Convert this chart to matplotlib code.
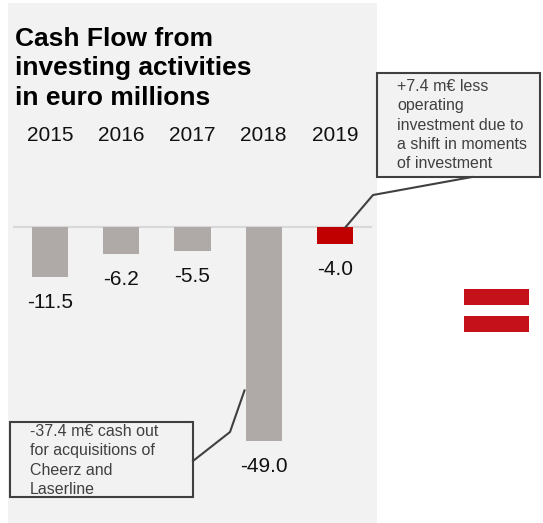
import numpy as np
import matplotlib
matplotlib.use("Agg")
import matplotlib.pyplot as plt
from matplotlib.patches import Rectangle

years = ["2015", "2016", "2017", "2018", "2019"]
values = [-11.5, -6.2, -5.5, -49.0, -4.0]
bar_colors = ["#afaaa8", "#afaaa8", "#afaaa8", "#afaaa8", "#c00000"]

title = "Cash Flow from\ninvesting activities\nin euro millions"
note_2019 = "+7.4 m€ less\noperating\ninvestment due to\na shift in moments\nof investment"
note_2018 = "-37.4 m€ cash out\nfor acquisitions of\nCheerz and\nLaserline"
acq_value = -37.4

plt.rcParams["font.family"] = ["Liberation Sans", "DejaVu Sans"]

W, H = 543, 523
fig = plt.figure(figsize=(W / 100, H / 100), dpi=100)
fig.patch.set_facecolor("white")

# background layer in pixel units (origin top-left)
bg = fig.add_axes([0, 0, 1, 1], zorder=0)
bg.set_xlim(0, W)
bg.set_ylim(H, 0)
bg.axis("off")
bg.add_patch(Rectangle((8, 3), 369, 525, facecolor="#f2f2f2", edgecolor="none"))

# bar axes: zero line at y=227px, ~4.37 px per unit
px_per_unit = 4.37
y0_px = 227
ymin = -60
ax_left, ax_right = 14.4, 370.6
ax_h = -ymin * px_per_unit
ax = fig.add_axes([ax_left / W, (H - y0_px - ax_h) / H, (ax_right - ax_left) / W, ax_h / H],
                  zorder=1)
ax.patch.set_alpha(0)
ax.set_xlim(-0.5, 4.5)
ax.set_ylim(ymin, 0)
ax.axis("off")

x = np.arange(len(years))
ax.bar(x, values, width=0.51, color=bar_colors, zorder=2)
ax.axhline(0, color="#d9d9d9", lw=1.6, zorder=1, clip_on=False)

for xi, yr, v in zip(x, years, values):
    ax.annotate(yr, (xi, 0), xytext=(0, 91), textcoords="offset pixels",
                ha="center", va="center", fontsize=15, color="#111111",
                annotation_clip=False)
    ax.annotate(f"{v:.1f}", (xi, v), xytext=(0, -25), textcoords="offset pixels",
                ha="center", va="center", fontsize=15, color="#111111",
                annotation_clip=False)

fig.text(15 / W, 1 - 27 / H, title, ha="left", va="top", fontsize=19,
         fontweight="bold", color="#000000", linespacing=1.28)

# pixel position (top-left origin) of a point given in bar data coords
def to_px(xd, yd):
    disp = ax.transData.transform((xd, yd))
    fx, fy = fig.transFigure.inverted().transform(disp)
    return fx * W, (1 - fy) * H

fig.canvas.draw()

top = fig.add_axes([0, 0, 1, 1], zorder=3)
top.set_xlim(0, W)
top.set_ylim(H, 0)
top.axis("off")

box_kw = dict(facecolor="#f2f2f2", edgecolor="#404040", lw=1.5)
note_kw = dict(ha="left", va="top", fontsize=11.5, color="#404040", linespacing=1.36)

# 2019 note
top.add_patch(Rectangle((377, 73), 163, 104, **box_kw))
top.text(397, 79, note_2019, **note_kw)
px, py = to_px(4 + 0.15, 0)
top.plot([472, 373, px], [177, 195, py], color="#404040", lw=1.5)

# 2018 note
top.add_patch(Rectangle((10, 422), 183, 75, **box_kw))
top.text(30, 424, note_2018, **note_kw)
px, py = to_px(3 - 0.27, acq_value)
top.plot([193, 230, px], [461, 432, py], color="#404040", lw=1.5)

# equals sign on the right
for y in (289, 316):
    top.add_patch(Rectangle((464, y), 65, 15.5, facecolor="#c4111a", edgecolor="none"))

fig.savefig("out.png", dpi=100)
